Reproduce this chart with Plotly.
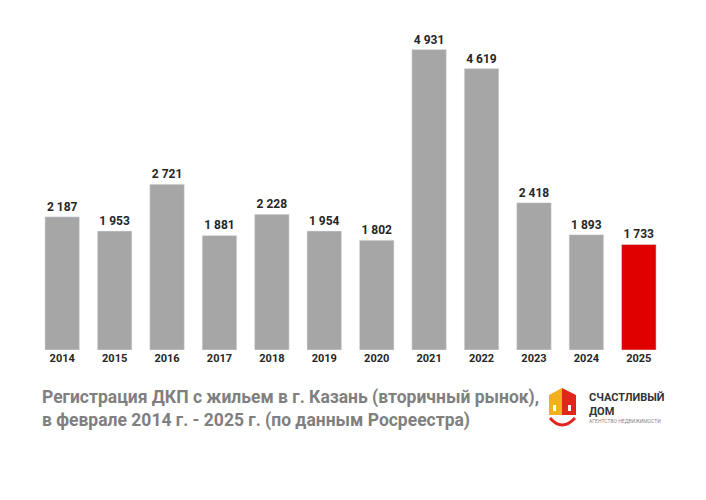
import plotly.graph_objects as go

years = ["2014","2015","2016","2017","2018","2019","2020","2021","2022","2023","2024","2025"]
values = [2187,1953,2721,1881,2228,1954,1802,4931,4619,2418,1893,1733]
colors = ["#a6a6a6"]*11 + ["#e00000"]

def fmt(v):
    return f"{v:,}".replace(",", " ")

fig = go.Figure(go.Bar(x=years, y=values, marker_color=colors, text=[fmt(v) for v in values],
                       textposition="outside", cliponaxis=False, texttemplate="<b>%{text}</b>",
                       textfont=dict(family="Roboto", size=12, color="#262626")))
W, H = 706, 500
OFF = 8  # page offset
L, R, T, B = 36-OFF, 41+OFF, 21-OFF, 150+OFF
pw, ph = W-L-R, H-T-B
def px(x): return (x-OFF-L)/pw
def py(y): return (H-B-(y-OFF))/ph

shapes = [
    dict(type="path", xref="paper", yref="paper",
         path=f"M {px(549)},{py(415)} L {px(549)},{py(395)} L {px(562)},{py(388)} L {px(562)},{py(415)} Z",
         fillcolor="#f2b01e", line_width=0),
    dict(type="path", xref="paper", yref="paper",
         path=f"M {px(562)},{py(415)} L {px(562)},{py(388)} L {px(576)},{py(395)} L {px(576)},{py(415)} Z",
         fillcolor="#e3261d", line_width=0),
    dict(type="rect", xref="paper", yref="paper", x0=px(553), x1=px(556), y0=py(411), y1=py(405),
         fillcolor="white", line_width=0),
    dict(type="rect", xref="paper", yref="paper", x0=px(568), x1=px(571), y0=py(411), y1=py(405),
         fillcolor="white", line_width=0),
    dict(type="path", xref="paper", yref="paper",
         path=f"M {px(550)},{py(418)} Q {px(562)},{py(432)} {px(575)},{py(418)}",
         line=dict(color="#e3261d", width=3)),
]
ann = [
    dict(text="<b>Регистрация ДКП с жильем в г. Казань (вторичный рынок),<br>в феврале 2014 г. - 2025 г. (по данным Росреестра)</b>",
         x=px(40), y=py(385), xref="paper", yref="paper", xanchor="left", yanchor="top", align="left",
         showarrow=False, font=dict(family="Roboto", size=17.5, color="#808080")),
    dict(text="<b>СЧАСТЛИВЫЙ<br>ДОМ</b>", x=px(587), y=py(389), xref="paper", yref="paper",
         xanchor="left", yanchor="top", align="left", showarrow=False,
         font=dict(family="Roboto", size=11, color="#333333")),
    dict(text="АГЕНТСТВО НЕДВИЖИМОСТИ", x=px(587), y=py(416), xref="paper", yref="paper",
         xanchor="left", yanchor="top", align="left", showarrow=False,
         font=dict(family="Roboto", size=5, color="#888888")),
]
fig.update_layout(width=W, height=H, margin=dict(l=L, r=R, t=T, b=B, autoexpand=False),
                  plot_bgcolor="white", paper_bgcolor="white", bargap=0.34,
                  showlegend=False, shapes=shapes, annotations=ann,
                  font=dict(family="Roboto"),
                  xaxis=dict(showgrid=False, tickfont=dict(size=11, color="#262626", family="Roboto"),
                             ticks="", showline=False, tickvals=years,
                             ticktext=[f"<b>{y}</b>" for y in years]),
                  yaxis=dict(range=[0, 5400], visible=False))
fig.write_html("out.html")
